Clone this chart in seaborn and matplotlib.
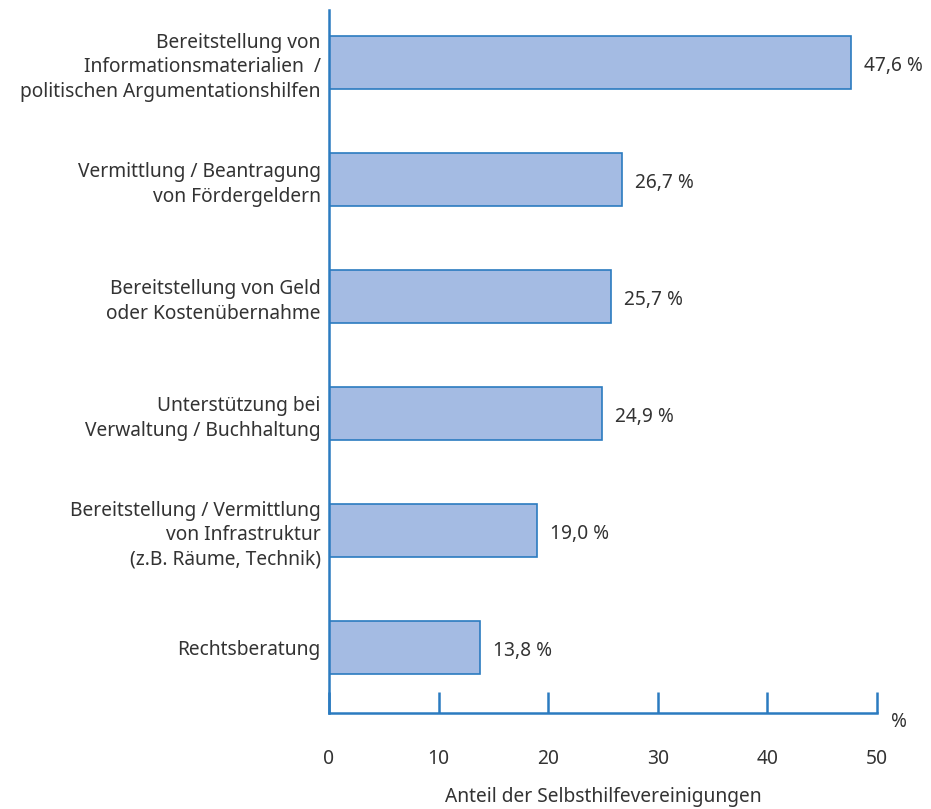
import matplotlib
matplotlib.use("Agg")
import matplotlib.pyplot as plt
import seaborn as sns
import pandas as pd

categories = [
    "Bereitstellung von\nInformationsmaterialien  /\npolitischen Argumentationshilfen",
    "Vermittlung / Beantragung\nvon Fördergeldern",
    "Bereitstellung von Geld\noder Kostenübernahme",
    "Unterstützung bei\nVerwaltung / Buchhaltung",
    "Bereitstellung / Vermittlung\nvon Infrastruktur\n(z.B. Räume, Technik)",
    "Rechtsberatung",
]
values = [47.6, 26.7, 25.7, 24.9, 19.0, 13.8]
x_ticks = [0, 10, 20, 30, 40, 50]
x_label = "Anteil der Selbsthilfevereinigungen"
unit = "%"

sns.set_style("white")
plt.rcParams['font.family'] = ['Noto Sans', 'DejaVu Sans']

BLUE = "#2b7bc0"
FILL = "#a4bbe3"
TXT = "#333333"
FS = 13.8

df = pd.DataFrame({"cat": categories, "val": values})

fig = plt.figure(figsize=(9.31, 8.09), dpi=100)
ax = fig.add_axes([329/931, 1 - 713/809, (877 - 329)/931, (713 - 10)/809])

sns.barplot(data=df, x="val", y="cat", orient="h", color=FILL, width=0.455,
            edgecolor=BLUE, linewidth=1.2, saturation=1, ax=ax)

ax.set_xlim(0, 50)
ax.set_ylim(5.56, -0.449)

for s in ["top", "right"]:
    ax.spines[s].set_visible(False)
for s in ["left", "bottom"]:
    ax.spines[s].set_color(BLUE)
    ax.spines[s].set_linewidth(1.8)

ax.set_xticks(x_ticks)
ax.set_xticklabels([str(t) for t in x_ticks])
ax.tick_params(axis="x", bottom=True, direction="in", length=15, width=1.8,
               color=BLUE, pad=26, labelsize=FS, labelcolor=TXT)
ax.tick_params(axis="y", left=False, length=0, pad=6, labelsize=FS,
               labelcolor=TXT)
for lbl in ax.get_yticklabels():
    lbl.set_linespacing(1.3)
    lbl.set_horizontalalignment("right")

ax.set_ylabel("")
ax.set_xlabel(x_label, fontsize=FS, color=TXT, labelpad=13)

for i, v in enumerate(values):
    ax.text(v + 1.2, i + 0.03, f"{v:.1f}".replace(".", ",") + " %",
            va="center", ha="left", fontsize=FS, color=TXT)

ax.text(51.3, 5.64, unit, transform=ax.transData, va="center", ha="left",
        fontsize=FS, color=TXT, clip_on=False)

fig.savefig("out.png", dpi=100)
